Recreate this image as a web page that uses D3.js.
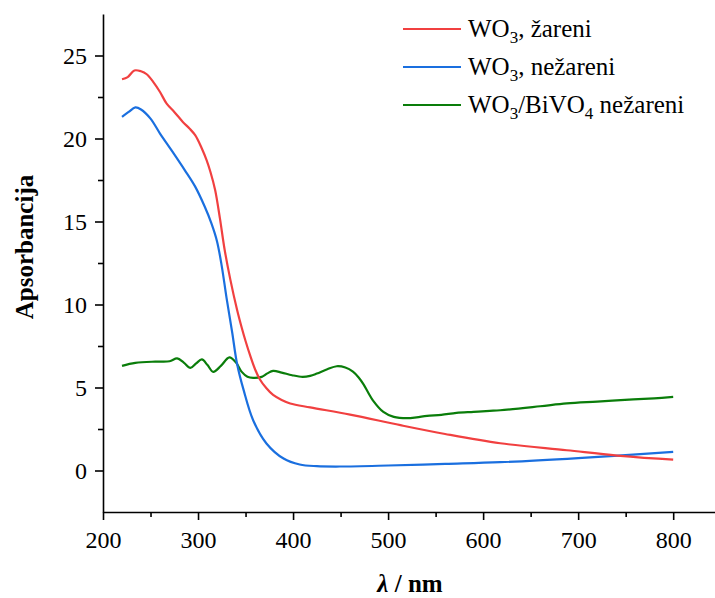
<!DOCTYPE html>
<meta charset="utf-8">
<body style="margin:0;background:#fff">
<svg width="715" height="598" font-family="'Liberation Serif', 'Times New Roman', 'DejaVu Serif', serif"></svg>
</body>
<style>
svg text { font-family: "Liberation Serif", "Times New Roman", "DejaVu Serif", serif; fill: #000; }
.axis path, .axis line { stroke: #000; stroke-width: 1.6px; }
.axis text { font-size: 24px; }
</style>
<script src="https://d3js.org/d3.v7.min.js"></script>
<script>
var FONT = "'Liberation Serif', 'Times New Roman', 'DejaVu Serif', serif";

// WO3, zareni (red)
var redX = [220,226,233,240,246,253,260,267,275,284,291,297,304,309,313,318,323,328,334,341,346,350,355,360,365,372,379,388,397,418,460,513,560,618,688,741,800];
var redY = [23.57,23.7,24.1,24.05,23.87,23.4,22.8,22.1,21.6,21.0,20.6,20.2,19.4,18.7,18.0,16.9,15.2,13.3,11.5,9.7,8.6,7.8,6.9,6.1,5.5,4.95,4.55,4.25,4.04,3.8,3.37,2.73,2.2,1.64,1.22,0.9,0.66];
// WO3, nezareni (blue)
var blueX = [220,227,234,240,250,260,272,286,297,307,314,320,325,330,336,341,348,358,372,390,407,425,450,500,560,618,700,800];
var blueY = [21.3,21.6,21.87,21.75,21.2,20.3,19.3,18.1,17.1,15.9,14.9,13.8,12.3,10.4,8.3,6.45,4.84,3.03,1.63,0.72,0.36,0.26,0.24,0.3,0.4,0.5,0.75,1.12];
// WO3/BiVO4 nezareni (green)
var greenX = [220,234,255,270,278,285,292,298,304,310,316,324,333,340,346,352,358,367,373,379,388,399,410,418,425,436,446,455,463,469,474,479,484,495,506,520,530,541,556,572,590,607,618,660,688,720,758,780,800];
var greenY = [6.3,6.48,6.56,6.58,6.75,6.5,6.18,6.45,6.69,6.35,5.94,6.3,6.81,6.5,5.94,5.65,5.58,5.64,5.85,6.0,5.9,5.74,5.64,5.7,5.84,6.1,6.28,6.2,5.95,5.6,5.2,4.7,4.23,3.53,3.23,3.15,3.2,3.29,3.35,3.47,3.53,3.59,3.63,3.87,4.04,4.15,4.28,4.35,4.43];

var xTicks = [200,300,400,500,600,700,800];
var xMinor = [250,350,450,550,650,750];
var yTicks = [0,5,10,15,20,25];
var yMinor = [2.5,7.5,12.5,17.5,22.5];

var seriesNames = ["žareni", "nežareni", "nežareni"];
var colors = ["#f14040", "#1a6fdf", "#0a7d0a"];

var svg = d3.select("svg");
var x = d3.scaleLinear().domain([200, 844]).range([103, 715]);
var y = d3.scaleLinear().domain([-2.5, 27.5]).range([512, 14]);

// minor ticks
svg.append("g").attr("class", "axis").attr("transform", "translate(0,512)")
  .call(d3.axisBottom(x).tickValues(xMinor).tickSize(5).tickFormat(""))
  .select(".domain").remove();
svg.append("g").attr("class", "axis").attr("transform", "translate(103,0)")
  .call(d3.axisLeft(y).tickValues(yMinor).tickSize(5).tickFormat(""))
  .select(".domain").remove();

// major axes
var gx = svg.append("g").attr("class", "axis").attr("transform", "translate(0,512)")
  .call(d3.axisBottom(x).tickValues(xTicks).tickSize(8).tickPadding(6).tickSizeOuter(0));
gx.attr("font-family", FONT).attr("font-size", 24);
gx.selectAll("text").attr("dy", "0.9em");
var gy = svg.append("g").attr("class", "axis").attr("transform", "translate(103,0)")
  .call(d3.axisLeft(y).tickValues(yTicks).tickSize(8).tickPadding(8).tickSizeOuter(0));
gy.attr("font-family", FONT).attr("font-size", 24);
gy.selectAll("text").attr("dy", "0.33em");

// axis titles
var xt = svg.append("text").attr("x", 410).attr("y", 592).attr("text-anchor", "middle")
  .attr("font-family", FONT).style("font-size", "25px").style("font-weight", "bold");
xt.append("tspan").style("font-style", "italic").text("λ");
xt.append("tspan").text(" / nm");

svg.append("text").attr("transform", "translate(33,247) rotate(-90)")
  .attr("text-anchor", "middle").attr("font-family", FONT)
  .style("font-size", "25px").style("font-weight", "bold")
  .text("Apsorbancija");

// curves
var line = d3.line().curve(d3.curveCatmullRom.alpha(0.5))
  .x(function(d) { return x(d[0]); })
  .y(function(d) { return y(d[1]); });

var data = [d3.zip(redX, redY), d3.zip(blueX, blueY), d3.zip(greenX, greenY)];
[2, 1, 0].forEach(function(i) {
  svg.append("path").datum(data[i])
    .attr("d", line)
    .attr("fill", "none")
    .attr("stroke", colors[i])
    .attr("stroke-width", 2.2)
    .attr("stroke-linejoin", "round");
});

// legend
var ly = [29, 67, 105];
for (var i = 0; i < 3; i++) {
  svg.append("line").attr("x1", 403).attr("x2", 461).attr("y1", ly[i]).attr("y2", ly[i])
    .attr("stroke", colors[i]).attr("stroke-width", 2.2);
  var t = svg.append("text").attr("x", 468).attr("y", ly[i] + 8)
    .attr("font-family", FONT).style("font-size", "25px");
  t.append("tspan").text("WO");
  t.append("tspan").attr("dy", 6).style("font-size", "17px").text("3");
  if (i < 2) {
    t.append("tspan").attr("dy", -6).text(", " + seriesNames[i]);
  } else {
    t.append("tspan").attr("dy", -6).text("/BiVO");
    t.append("tspan").attr("dy", 6).style("font-size", "17px").text("4");
    t.append("tspan").attr("dy", -6).text(" " + seriesNames[i]);
  }
}
</script>
